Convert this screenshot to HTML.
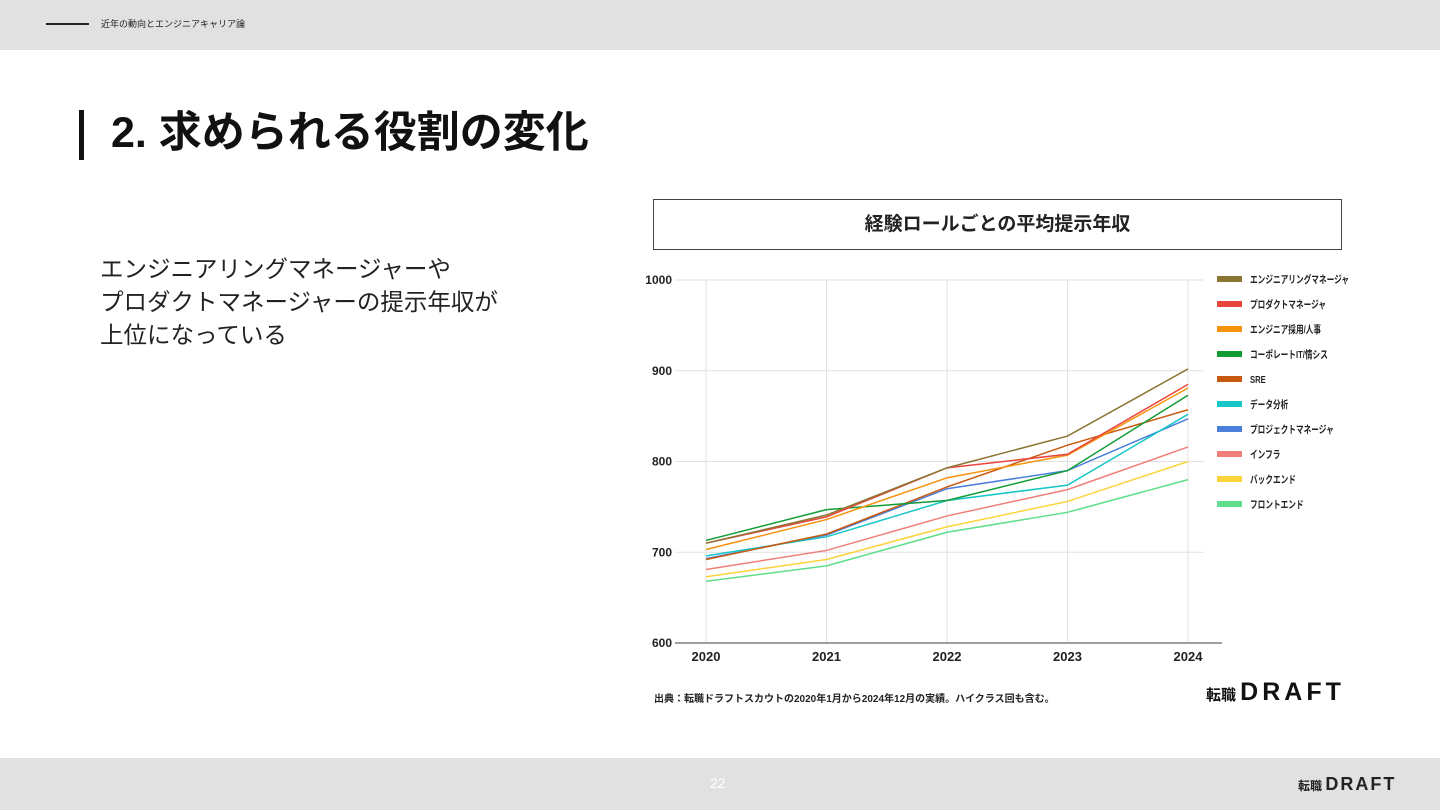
<!DOCTYPE html>
<html><head><meta charset="utf-8"><style>
body{margin:0;width:1440px;height:810px;position:relative;background:#fff;font-family:"Liberation Sans","Noto Sans CJK JP",sans-serif;overflow:hidden}
.abs{position:absolute}
</style></head><body>
<div class="abs" style="left:0;top:0;width:1440px;height:50px;background:#e1e1e1">
 <div class="abs" style="left:46px;top:23px;width:43px;height:2px;background:#222"></div>
 <div class="abs" style="left:101px;top:17px;font-size:9px;color:#222">近年の動向とエンジニアキャリア論</div>
</div>
<div class="abs" style="left:79px;top:110px;width:5px;height:50px;background:#111"></div>
<div class="abs" style="left:111px;top:106px;font-size:43px;font-weight:bold;color:#111;line-height:54px">2. 求められる役割の変化</div>
<div class="abs" style="left:100px;top:253px;font-size:23.5px;line-height:33px;color:#222">エンジニアリングマネージャーや<br>プロダクトマネージャーの提示年収が<br>上位になっている</div>
<div class="abs" style="left:653px;top:199px;width:687px;height:49px;border:1px solid #444;text-align:center;line-height:49px;font-size:19px;font-weight:bold;color:#222">経験ロールごとの平均提示年収</div>
<svg class="abs" style="left:0;top:0" width="1440" height="810" id="chart"></svg>
<div class="abs" style="left:654px;top:690px;font-size:10px;font-weight:bold;color:#222">出典：転職ドラフトスカウトの2020年1月から2024年12月の実績。ハイクラス回も含む。</div>
<div class="abs" style="left:1206px;top:678px;font-size:15px;font-weight:bold;color:#111;white-space:nowrap">転職 <span style="font-size:25px;letter-spacing:4px;font-weight:900">DRAFT</span></div>
<div class="abs" style="left:0;top:758px;width:1440px;height:52px;background:#e1e1e1">
 <div class="abs" style="left:710px;top:17px;font-size:14px;color:#fff">22</div>
 <div class="abs" style="left:1298px;top:16px;font-size:12px;font-weight:bold;color:#222;white-space:nowrap">転職 <span style="font-size:18px;letter-spacing:2px;font-weight:900">DRAFT</span></div>
</div>
<script>
const years=["2020","2021","2022","2023","2024"];
const yTicks=[600,700,800,900,1000];
const seriesNames=["エンジニアリングマネージャ","プロダクトマネージャ","エンジニア採用/人事","コーポレートIT/情シス","SRE","データ分析","プロジェクトマネージャ","インフラ","バックエンド","フロントエンド"];
const colors=["#8a7533","#e8453c","#f5930f","#109c34","#c85a10","#18c6c8","#4a7fdc","#ef7f78","#fbd33a","#5ede8a"];
const emVals=[710,741,793,828,902];
const pmVals=[710,739,793,808,885];
const recruitVals=[703,736,782,807,881];
const corpVals=[713,747,757,790,873];
const sreVals=[692,720,772,818,857];
const dataVals=[696,717,757,774,852];
const projVals=[693,719,770,790,847];
const infraVals=[681,702,740,769,816];
const backVals=[673,692,728,756,800];
const frontVals=[668,685,722,744,780];
const allVals=[emVals,pmVals,recruitVals,corpVals,sreVals,dataVals,projVals,infraVals,backVals,frontVals];
const svg=document.getElementById('chart');const NS="http://www.w3.org/2000/svg";
const xS=i=>706+i*(1188-706)/(years.length-1);
const yS=v=>643-(v-600)*(643-280)/400;
function mk(t,a,p){const e=document.createElementNS(NS,t);for(const k in a)e.setAttribute(k,a[k]);(p||svg).appendChild(e);return e;}
yTicks.forEach(v=>{
 const l=mk('line',{x1:675,x2:1204,y1:yS(v),y2:yS(v),stroke:v===600?'#666':'#e2e2e2','stroke-width':1});
 
 
 const t=mk('text',{x:672,y:yS(v)+4,'text-anchor':'end','font-size':12,'font-weight':'bold',fill:'#222'});
 t.textContent=v;
 
 
});
years.forEach((y,i)=>{
 const l=mk('line',{x1:xS(i),x2:xS(i),y1:280,y2:643,stroke:'#e2e2e2'});
 
 
 const t=mk('text',{x:xS(i),y:661,'text-anchor':'middle','font-size':13,'font-weight':'bold',fill:'#222'});
 t.textContent=y;
 
 
});
const ax=mk('line',{x1:675,x2:1222,y1:643,y2:643,stroke:'#666','stroke-width':1.2});


for(let s=allVals.length-1;s>=0;s--){
 const p=mk('polyline',{points:allVals[s].map((v,i)=>xS(i)+','+yS(v)).join(' '),fill:'none',stroke:colors[s],'stroke-width':1.5});
 
 
}
seriesNames.forEach((n,i)=>{
 const y=279+i*25;
 const g=mk('g',{});
 
 
 mk('rect',{x:1217,y:y-3,width:25,height:6,fill:colors[i]},g);
 const tg=mk('g',{transform:'translate(1250,'+(y+4)+') scale(0.73,1)'},g);
 const t=mk('text',{x:0,y:0,'font-size':10.5,'font-weight':'bold',fill:'#222'},tg);
 t.textContent=n;
});
</script>
</body></html>
